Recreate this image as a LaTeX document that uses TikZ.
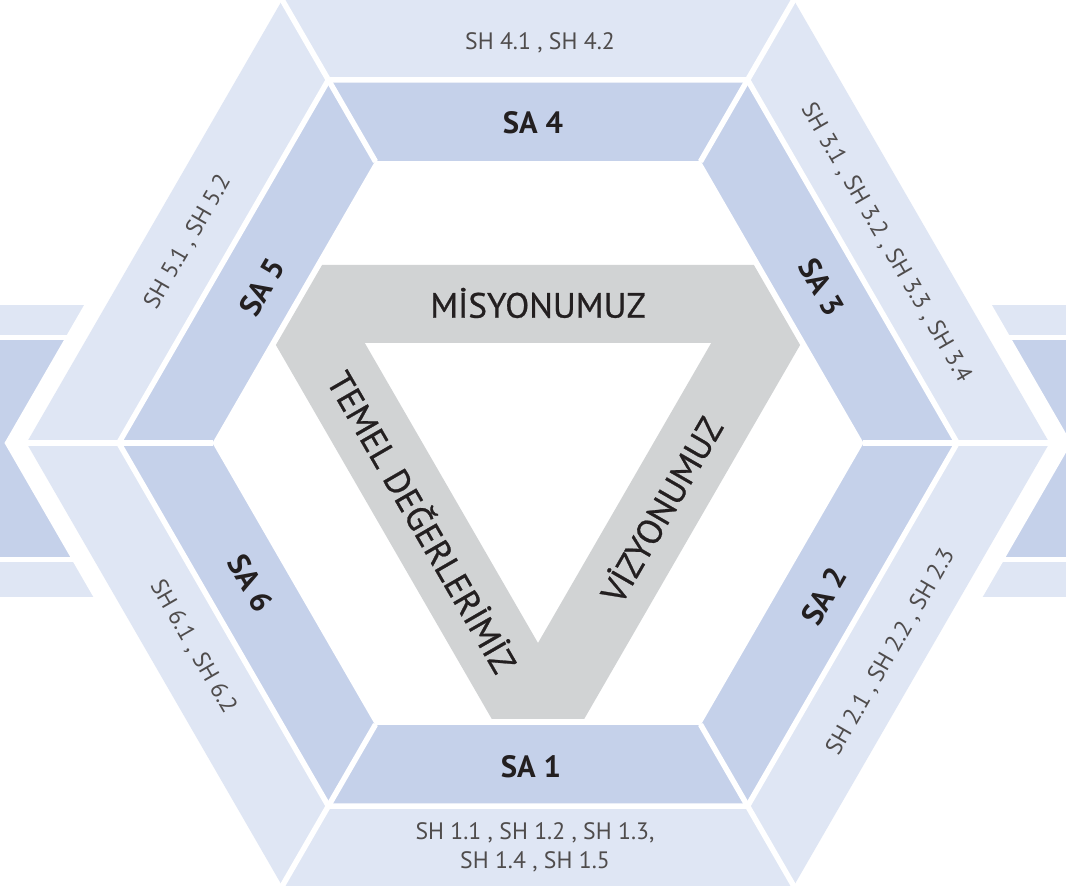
\documentclass[tikz,border=0pt]{standalone}
\usepackage{fontspec}
\setmainfont{PT Sans}
\newfontfamily\corefont{PT Sans}[FakeBold=0.7]
\definecolor{shfill}{HTML}{DFE6F4}
\definecolor{safill}{HTML}{C5D1EA}
\definecolor{corefill}{HTML}{D1D3D4}
\definecolor{inktext}{HTML}{231F20}
\tikzset{
  salabel/.style={font=\fontsize{17.5}{20}\selectfont\bfseries, text=inktext},
  shlabel/.style={font=\fontsize{13.5}{16.5}\selectfont, text=inktext!80, align=center},
  corelabel/.style={font=\fontsize{20}{24}\corefont, text=inktext},
  gapline/.style={white, line width=1.1mm}
}
\begin{document}
\begin{tikzpicture}[x=0.2mm, y=0.2mm]
    \useasboundingbox (-538,-449) rectangle (528,443);
    % side ribbons, cut off by the page
    \foreach \s in {-1,1} {
      \fill[shfill] (\s*430,108) rectangle (\s*545,138);
      \fill[safill] (\s*430,-114) rectangle (\s*545,103);
      \fill[shfill] (\s*430,-154) rectangle (\s*545,-119);
    }
    \fill[white] (0:533.5) \foreach \a in {60,120,...,300} { -- (\a:533.5) } -- cycle;
    % rings
    \fill[shfill] (0:511.5) \foreach \a in {60,120,...,300} { -- (\a:511.5) } -- cycle;
    \fill[safill] (0:419.2) \foreach \a in {60,120,...,300} { -- (\a:419.2) } -- cycle;
    \fill[white] (0:325.6) \foreach \a in {60,120,...,300} { -- (\a:325.6) } -- cycle;
    \draw[gapline] (0:419.2) \foreach \a in {60,120,...,300} { -- (\a:419.2) } -- cycle;
    \foreach \a in {0,60,...,300} {
      \draw[gapline] (\a:325) -- (\a:514);
    }
    % core triangle
    \fill[corefill, even odd rule] (-215.9,178) -- (215.9,178) -- (262.1,98) -- (46.2,-276)
      -- (-46.2,-276) -- (-262.1,98) -- cycle (-173.2,100) -- (173.2,100) -- (0,-200) -- cycle;
    \node[corelabel] (misyon) at (0,140) {MİSYONUMUZ};
    \node[corelabel, rotate=-60] (temel) at (-114,-78) {TEMEL DEĞERLERİMİZ};
    \node[corelabel, rotate=60] (vizyon) at (122,-66) {VİZYONUMUZ};
    % SA labels
    \foreach \n/\p/\r in {1/{-7,-324}/0, 2/{286,-153}/60, 3/{284,156}/-60,
                          4/{-5,320}/0, 5/{-276,156}/60, 6/{-287,-140}/-60} {
      \node[salabel, rotate=\r] (sa\n) at (\p) {SA \n};
    }
    % SH labels
    \foreach \n/\p/\r/\t in {1/{-3,-404}/0/{SH 1.1 , SH 1.2 , SH 1.3,\\ SH 1.4 , SH 1.5},
                             2/{353,-209}/60/{SH 2.1 , SH 2.2 , SH 2.3},
                             3/{348,200}/-60/{SH 3.1 , SH 3.2 , SH 3.3 , SH 3.4},
                             4/{2,400}/0/{SH 4.1 , SH 4.2},
                             5/{-350,201}/60/{SH 5.1 , SH 5.2},
                             6/{-345,-204}/-60/{SH 6.1 , SH 6.2}} {
      \node[shlabel, rotate=\r] (sh\n) at (\p) {\t};
    }
\end{tikzpicture}
\end{document}
